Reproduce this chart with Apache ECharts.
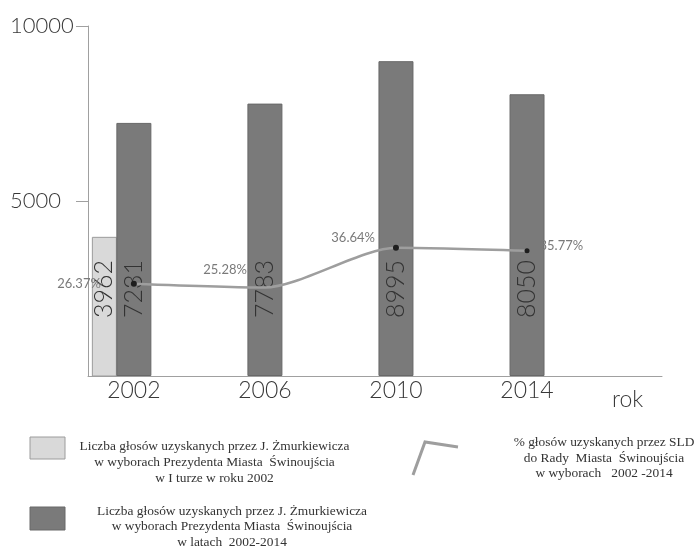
<!DOCTYPE html>
<html>
<head>
<meta charset="utf-8">
<script src="https://cdn.jsdelivr.net/npm/echarts@6/dist/echarts.min.js"></script>
<style>
  html, body { margin: 0; padding: 0; background: #ffffff; }
  #chart { width: 694px; height: 548px; }
</style>
</head>
<body>
<div id="chart"></div>
<script>
// Election years
const years = [2002, 2006, 2010, 2014];
// Votes for J. Żmurkiewicz in the first round of 2002
const firstRoundYear = [2002];
const firstRoundVotes = [3962];
// Votes for J. Żmurkiewicz in the mayoral elections 2002-2014
const mayorVotes = [7231, 7783, 8995, 8050];
// SLD share of votes in the city council elections (%)
const sldShare = [26.37, 25.28, 36.64, 35.77];
// Value axis tick labels
const voteTicks = [5000, 10000];

const GEO_FONT = 'Lato, "Open Sans", sans-serif';
const SERIF_FONT = '"Liberation Serif", "DejaVu Serif", serif';
const DARK_W = 35;
const LIGHT_W = 24;

// placement of each percentage label relative to its point
const pctLabelPos = ['left', 'left', 'left', 'right'];
const pctLabelDist = [30, 18, 18, 10];
const pctLabelShift = [[0, 0], [0, -18], [0, -10], [0, -5]];
const pctDotSize = [6, 0, 6, 5];

const chart = echarts.init(document.getElementById('chart'), null, { renderer: 'canvas' });

const axisTextStyle = {
  fontFamily: GEO_FONT,
  fontWeight: 300,
  color: '#383838'
};

function legendText(cx, top, lineHeight, size, text) {
  return {
    type: 'text',
    x: cx,
    y: top,
    style: {
      text: text,
      align: 'center',
      textAlign: 'center',
      verticalAlign: 'top',
      textVerticalAlign: 'top',
      lineHeight: lineHeight,
      font: size + 'px ' + SERIF_FONT,
      fill: '#333333'
    }
  };
}

chart.setOption({
  backgroundColor: '#ffffff',
  animation: false,
  grid: { left: 88, right: 32, top: 26, bottom: 172, containLabel: false, outerBoundsMode: 'none' },
  xAxis: [{
    type: 'value',
    min: 2000.6,
    max: 2018.12,
    splitLine: { show: false },
    axisLine: { show: true, lineStyle: { color: '#a0a0a0', width: 1 } },
    axisTick: { show: false },
    axisLabel: {
      customValues: years,
      formatter: v => String(v),
      margin: 3,
      fontSize: 23,
      ...axisTextStyle
    },
    name: 'rok',
    nameLocation: 'end',
    nameGap: -50,
    nameTextStyle: {
      fontSize: 23,
      ...axisTextStyle,
      align: 'left',
      verticalAlign: 'top',
      padding: [12, 0, 0, 0]
    }
  }],
  yAxis: [{
    type: 'value',
    min: 0,
    max: 10000,
    interval: 5000,
    splitLine: { show: false },
    axisLine: { show: true, lineStyle: { color: '#a0a0a0', width: 1 } },
    axisTick: { show: true, customValues: voteTicks, length: 12, lineStyle: { color: '#a0a0a0' } },
    axisLabel: {
      customValues: voteTicks,
      formatter: v => String(v),
      margin: 78,
      align: 'left',
      fontSize: 22,
      ...axisTextStyle
    }
  }, {
    type: 'value',
    min: 0,
    max: 100,
    show: false
  }],
  series: [
    {
      name: 'Liczba głosów uzyskanych przez J. Żmurkiewicza w wyborach Prezydenta Miasta Świnoujścia w latach 2002-2014',
      type: 'bar',
      xAxisIndex: 0,
      yAxisIndex: 0,
      barWidth: DARK_W,
      data: years.map((y, i) => [y, mayorVotes[i]]),
      itemStyle: { color: '#7a7a7a', borderColor: '#686868', borderWidth: 1 },
      label: {
        show: true,
        position: 'insideBottom',
        distance: 58,
        rotate: 90,
        align: 'left',
        verticalAlign: 'middle',
        formatter: p => String(p.value[1]),
        fontFamily: GEO_FONT,
        fontWeight: 300,
        fontSize: 25,
        color: '#333333'
      },
      z: 2
    },
    {
      name: 'Liczba głosów uzyskanych przez J. Żmurkiewicza w wyborach Prezydenta Miasta Świnoujścia w I turze w roku 2002',
      type: 'custom',
      xAxisIndex: 0,
      yAxisIndex: 0,
      data: firstRoundYear.map((y, i) => [y, firstRoundVotes[i]]),
      renderItem: (params, api) => {
        const base = api.coord([api.value(0), 0]);
        const top = api.coord([api.value(0), api.value(1)]);
        const left = base[0] - DARK_W / 2 - LIGHT_W;
        return {
          type: 'group',
          children: [{
            type: 'rect',
            shape: { x: left, y: top[1], width: LIGHT_W, height: base[1] - top[1] },
            style: { fill: '#d9d9d9', stroke: '#9c9c9c', lineWidth: 1 }
          }, {
            type: 'text',
            x: left + LIGHT_W / 2,
            y: base[1] - 58,
            rotation: Math.PI / 2,
            style: {
              text: String(api.value(1)),
              align: 'left',
              verticalAlign: 'middle',
              fontFamily: GEO_FONT,
              fontWeight: 300,
              fontSize: 25,
              fill: '#333333'
            }
          }]
        };
      },
      z: 2
    },
    {
      name: '% głosów uzyskanych przez SLD do Rady Miasta Świnoujścia w wyborach 2002 -2014',
      type: 'line',
      xAxisIndex: 0,
      yAxisIndex: 1,
      smooth: 0.25,
      symbol: 'circle',
      data: years.map((y, i) => ({
        value: [y, sldShare[i]],
        symbolSize: pctDotSize[i],
        label: { position: pctLabelPos[i], distance: pctLabelDist[i], offset: pctLabelShift[i] }
      })),
      lineStyle: { color: '#9e9e9e', width: 2.5 },
      itemStyle: { color: '#1e1e1e', borderColor: '#1e1e1e', borderWidth: 0 },
      label: {
        show: true,
        formatter: p => p.value[1].toFixed(2) + '%',
        fontFamily: GEO_FONT,
        fontSize: 13,
        color: '#7a7a7a'
      },
      z: 5
    }
  ],
  graphic: [
    // legend: first-round bar
    { type: 'rect', x: 30, y: 437, shape: { width: 35, height: 22 },
      style: { fill: '#d9d9d9', stroke: '#9c9c9c', lineWidth: 1 } },
    legendText(214.5, 438.6, 15.8, 13.4,
      'Liczba głosów uzyskanych przez J. Żmurkiewicza\nw wyborach Prezydenta Miasta  Świnoujścia\nw I turze w roku 2002'),
    // legend: 2002-2014 bars
    { type: 'rect', x: 30, y: 507, shape: { width: 35, height: 23 },
      style: { fill: '#7a7a7a', stroke: '#686868', lineWidth: 1 } },
    legendText(232, 504, 15.3, 13.4,
      'Liczba głosów uzyskanych przez J. Żmurkiewicza\nw wyborach Prezydenta Miasta  Świnoujścia\nw latach  2002-2014'),
    // legend: SLD share line
    { type: 'polyline', shape: { points: [[413, 475], [425, 442], [458, 447]] },
      style: { stroke: '#9e9e9e', lineWidth: 3, fill: null } },
    legendText(604, 435, 15.5, 13.4,
      '% głosów uzyskanych przez SLD\ndo Rady  Miasta  Świnoujścia\nw wyborach   2002 -2014')
  ]
});
</script>
</body>
</html>
